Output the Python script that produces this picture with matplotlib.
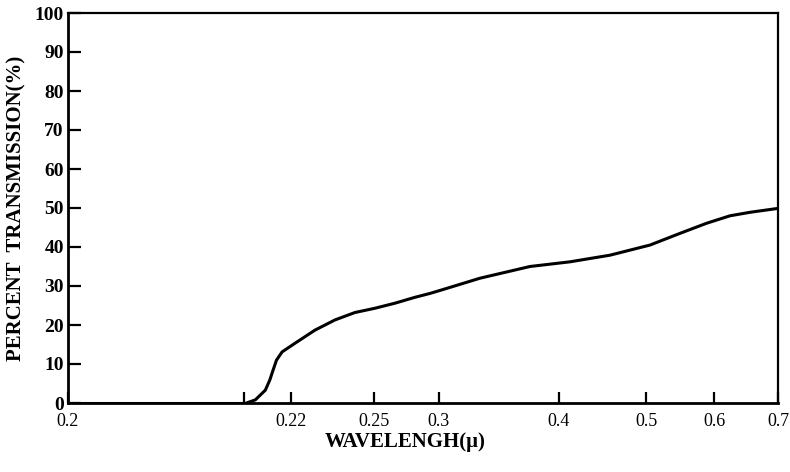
import numpy as np
import matplotlib
matplotlib.use('Agg')
import matplotlib.pyplot as plt

# wavelength (micron) vs percent transmission
wavelength = [0.2160, 0.2168, 0.2177, 0.2181, 0.2184, 0.2187, 0.2192, 0.2214,
              0.2287, 0.2359, 0.2431, 0.2508, 0.2662, 0.2815, 0.2931, 0.3023,
              0.3342, 0.3758, 0.4126, 0.4586, 0.5059, 0.55, 0.5893, 0.625,
              0.6563, 0.7]
transmission = [0, 0.8, 3.3, 5.9, 8.5, 11.0, 13.1, 15.3,
                18.7, 21.3, 23.2, 24.3, 25.6, 27.1, 28.1, 29.0,
                32.0, 35.0, 36.2, 37.9, 40.5, 43.5, 46.1, 48.0,
                48.9, 49.9]

# the printed axis is not uniform: tick values and where they sit on the axis
xtick_vals = [0.2, 0.22, 0.25, 0.3, 0.4, 0.5, 0.6, 0.7]
xtick_pos = [68, 291, 374, 439, 559, 646, 714, 778]
xtick_labels = ['0.2', '0.22', '0.25', '0.3', '0.4', '0.5', '0.6', '0.7']
extra_tick = 0.2158
yticks = list(range(0, 101, 10))


def fwd(x):
    return np.interp(x, xtick_vals, xtick_pos)


def inv(p):
    return np.interp(p, xtick_pos, xtick_vals)


plt.rcParams['font.family'] = 'Liberation Serif'

fig = plt.figure(figsize=(7.9, 4.72), dpi=100)
ax = fig.add_axes([68/790, 1 - 403/472, (778 - 68)/790, (403 - 13)/472])
ax.set_xscale('function', functions=(fwd, inv))

ax.plot(wavelength, transmission, color='black', linewidth=2.2,
        solid_joinstyle='round', solid_capstyle='round')
ax.plot([0.2, wavelength[0]], [0, 0], color='black', linewidth=2.2)

ax.set_xlim(0.2, 0.7)
ax.set_ylim(0, 100)

ax.set_xticks(xtick_vals[:1] + [extra_tick] + xtick_vals[1:])
ax.set_xticklabels(xtick_labels[:1] + [''] + xtick_labels[1:], fontsize=13)
ax.xaxis.set_minor_locator(matplotlib.ticker.NullLocator())
ax.set_yticks(yticks)
ax.set_yticklabels([str(v) for v in yticks], fontsize=14, fontweight='bold')

ax.tick_params(axis='x', direction='in', length=8, width=1.6, pad=7)
ax.tick_params(axis='y', direction='in', length=9, width=1.6, pad=3)

for s in ['left', 'bottom']:
    ax.spines[s].set_linewidth(2.0)
for s in ['top', 'right']:
    ax.spines[s].set_linewidth(1.6)

ax.set_ylabel('PERCENT  TRANSMISSION(%)', fontsize=15, fontweight='bold', labelpad=6)
ax.set_xlabel('WAVELENGH(\u03bc)', fontsize=15, fontweight='bold')
ax.xaxis.set_label_coords(0.475, -0.075)

plt.savefig('out.png', dpi=100)
